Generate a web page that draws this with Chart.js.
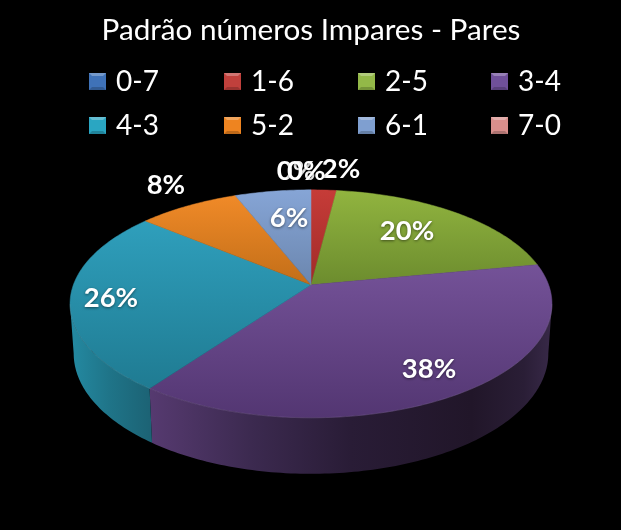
<!DOCTYPE html>
<html><head><meta charset="utf-8">
<script src="https://cdn.jsdelivr.net/npm/chart.js@4"></script>
<style>html,body{margin:0;padding:0;background:#000}canvas{display:block}</style>
</head><body><canvas id="c" width="621" height="530"></canvas>
<script>
const chartTitle = 'Padrão números Impares - Pares';
const categories = ['0-7','1-6','2-5','3-4','4-3','5-2','6-1','7-0'];
const percentValues = [0,2,20,38,26,8,6,0];
const swatchColors = ['#3f72b8','#c0403c','#93b848','#70509a','#2aa6c2','#ee8420','#7f9fd0','#d98f8c'];
const topLight = ['#4a7cc0','#c63c38','#91b43f','#745298','#2f9fbc','#f08a28','#86a5d6','#d89090'];
const topDark  = ['#3a68a8','#a02a28','#6c8c2e','#533672','#1f7b92','#c26e18','#6b86ae','#c88080'];
const wallStops = {3:[[0,'#563a70'],[.25,'#3c2a50'],[.5,'#291c36'],[.8,'#211629'],[.93,'#2a1e36'],[1,'#382948']],
                   4:[[0,'#248aa2'],[.5,'#1f7488'],[1,'#1c6375']]};
const labelRadius = [1.244,1.277,0.689,0.805,0.834,1.282,0.680,1.244];
const labelAngleNudge = [-3.5,3.3,-3.5,-0.8,-0.7,1.9,2.1,-1.1];
const perspective = 1/6, tilt = 110.8/237.6;
const lowerScale = {r:234/237.6, a:117/237.6, dy:48.6};
const legendCols = [89,224,358,491], legendRows = [73,117], swatchSize = 17, legendFont = '28px Lato, "Open Sans", sans-serif';

function project(arc, th, f, lower){
  const u = Math.sin(th)*f, v = -Math.cos(th)*f, d = 1 - perspective*v;
  const R = arc.outerRadius*(lower?lowerScale.r:1);
  const A = arc.outerRadius*(lower?lowerScale.a:tilt);
  return [arc.x + R*u/d, arc.y + (lower?lowerScale.dy:0) + A*v/d];
}
const pie3d = {
  id:'pie3d',
  beforeDraw(ch){ const c=ch.ctx; c.save(); c.fillStyle='#000'; c.fillRect(0,0,ch.width,ch.height); c.restore(); },
  beforeDatasetDraw(ch){
    const c = ch.ctx, arcs = ch.getDatasetMeta(0).data;
    const tang = Math.acos(-perspective), lo = tang, hi = 2*Math.PI - tang;
    arcs.forEach((arc,i)=>{
      const a = Math.max(arc.startAngle+Math.PI/2, lo), b = Math.min(arc.endAngle+Math.PI/2, hi);
      if(b<=a || !wallStops[i]) return;
      const p0 = project(arc,a,1,false), p1 = project(arc,b,1,false);
      const x0 = Math.min(p0[0],p1[0]), x1 = Math.max(p0[0],p1[0]);
      const g = c.createLinearGradient(x0,0,x1,0);
      wallStops[i].forEach(s=>g.addColorStop(s[0],s[1]));
      c.beginPath();
      const n = Math.ceil((b-a)*180/Math.PI);
      for(let k=0;k<=n;k++){const p=project(arc,a+(b-a)*k/n,1,false); k?c.lineTo(p[0],p[1]):c.moveTo(p[0],p[1]);}
      for(let k=n;k>=0;k--){const p=project(arc,a+(b-a)*k/n,1,true); c.lineTo(p[0],p[1]);}
      c.closePath(); c.fillStyle=g; c.fill();
    });
    arcs.forEach((arc,i)=>{
      const a = arc.startAngle+Math.PI/2, b = arc.endAngle+Math.PI/2;
      if(b-a<1e-6) return;
      const n = Math.ceil((b-a)*180/Math.PI), pts=[];
      for(let k=0;k<=n;k++) pts.push(project(arc,a+(b-a)*k/n,1,false));
      const ys = pts.map(p=>p[1]).concat(arc.y);
      const g = c.createLinearGradient(0,Math.min(...ys),0,Math.max(...ys));
      g.addColorStop(0,topLight[i]); g.addColorStop(1,topDark[i]);
      c.beginPath(); c.moveTo(arc.x,arc.y);
      pts.forEach(p=>c.lineTo(p[0],p[1]));
      c.closePath(); c.fillStyle=g; c.fill(); c.strokeStyle=g; c.lineWidth=.5; c.stroke();
    });
    // soft highlight on the front rim
    const first = arcs[0];
    c.beginPath();
    for(let k=0;k<=160;k++){const p=project(first,lo+(hi-lo)*k/160,1,false); k?c.lineTo(p[0],p[1]):c.moveTo(p[0],p[1]);}
    c.strokeStyle='rgba(255,255,255,.09)'; c.lineWidth=1; c.stroke();
    return false;
  },
  afterDraw(ch){
    const c = ch.ctx, arcs = ch.getDatasetMeta(0).data;
    c.save();
    c.textBaseline='middle'; c.textAlign='left'; c.font=legendFont;
    categories.forEach((t,i)=>{
      const x=legendCols[i%4], y=legendRows[Math.floor(i/4)];
      c.fillStyle=swatchColors[i]; c.fillRect(x,y,swatchSize,swatchSize);
      c.fillStyle='rgba(255,255,255,.28)';
      c.beginPath(); c.moveTo(x,y); c.lineTo(x+swatchSize,y); c.lineTo(x+swatchSize-3,y+3); c.lineTo(x+3,y+3); c.closePath(); c.fill();
      c.fillStyle='rgba(0,0,0,.2)';
      c.beginPath(); c.moveTo(x,y+swatchSize); c.lineTo(x+swatchSize,y+swatchSize); c.lineTo(x+swatchSize-3,y+swatchSize-3); c.lineTo(x+3,y+swatchSize-3); c.closePath(); c.fill();
      c.fillStyle='#fff'; c.fillText(t,x+27,y+swatchSize/2);
    });
    c.font='bold 27.5px Lato, "Open Sans", sans-serif'; c.textAlign='center';
    c.shadowColor='rgba(0,0,0,.5)'; c.shadowBlur=3; c.shadowOffsetY=1;
    arcs.forEach((arc,i)=>{
      const mid=(arc.startAngle+arc.endAngle)/2+Math.PI/2+labelAngleNudge[i]*Math.PI/180;
      const p=project(arc,mid,labelRadius[i],false);
      c.fillText(percentValues[i]+'%',p[0],p[1]);
    });
    c.restore();
  }
};
new Chart(document.getElementById('c'),{
  type:'pie',
  data:{labels:categories,datasets:[{data:percentValues,backgroundColor:swatchColors,borderWidth:0}]},
  options:{
    responsive:false,animation:false,radius:237.6,
    layout:{padding:{left:1,right:0,top:0,bottom:15}},
    plugins:{
      legend:{display:false},tooltip:{enabled:false},
      title:{display:true,text:chartTitle,color:'#fff',font:{family:'Lato, "Open Sans", sans-serif',size:29.7,weight:'normal'},padding:{top:13,bottom:6}}
    }
  },
  plugins:[pie3d]
});
</script></body></html>
